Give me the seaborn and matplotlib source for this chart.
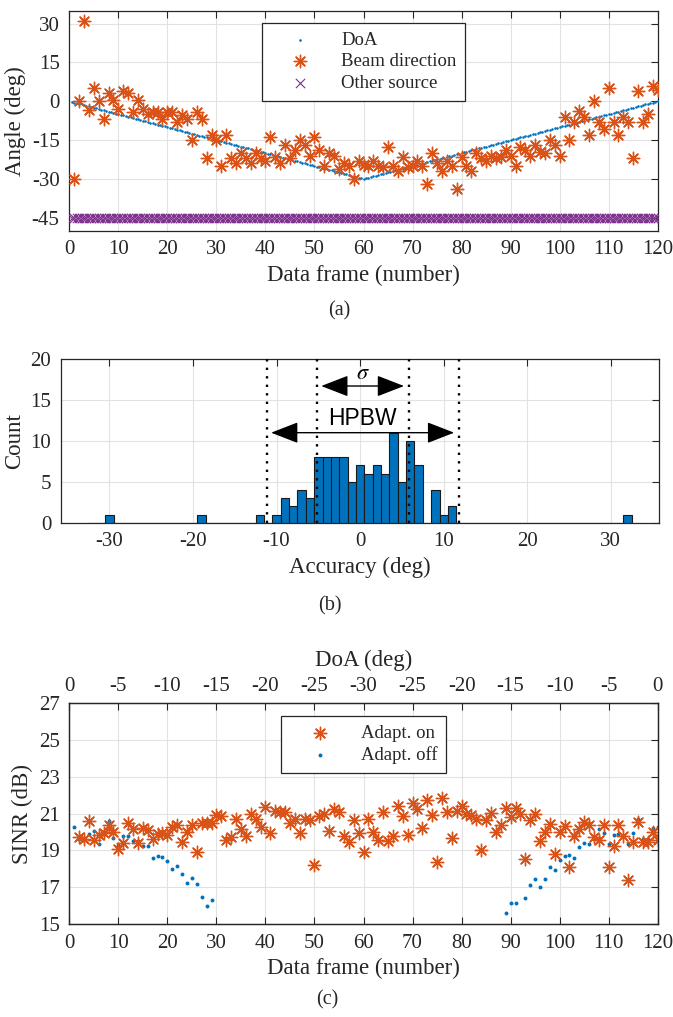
import numpy as np
import pandas as pd
import seaborn as sns
import matplotlib.pyplot as plt

sns.set_theme(style='white')
plt.rcParams.update({
    'font.family': ['Liberation Serif', 'DejaVu Serif'],
    'mathtext.fontset': 'stix',
    'axes.unicode_minus': False,
    'axes.edgecolor': '#262626',
    'axes.linewidth': 0.9,
    'xtick.direction': 'in',
    'ytick.direction': 'in',
    'xtick.color': '#262626',
    'ytick.color': '#262626',
    'text.color': '#262626',
    'axes.labelcolor': '#262626',
})

BLUE, ORANGE, PURPLE = '#0072BD', '#D95319', '#7E2F8E'
TICK_FS, LABEL_FS, LEG_FS = 15, 16.5, 13.5

# ---------------- (a) angles per data frame ----------------
beam_frame = list(range(1, 121))
beam_deg = [-30, 0, 31, -3.2, 5, 0, -6.8, 3, 0.3, -3,
            4, 3.2, -4, 0.3, -3, -4.9, -4, -4, -6.8, -4,
            -4, -8, -5.3, -6.8, -15, -4, -6.8, -22, -13, -15,
            -25, -13, -22, -24, -20, -22, -24, -20, -22, -23,
            -14, -21.5, -24, -17, -22, -19, -15, -17, -21, -14,
            -19, -25, -20, -21, -26, -24, -25, -30, -23, -24.5,
            -25, -23, -25, -25.4, -17.7, -25, -27, -21.5, -25.4, -25,
            -23, -25, -32, -20, -24, -27, -23, -25, -34, -21.5,
            -25, -27, -20, -22, -23, -21, -22, -21.5, -19, -21,
            -25, -17.7, -19, -21, -17, -19.6, -20, -15, -17, -21,
            -6, -15, -8, -3.6, -6, -13, 0.2, -8, -10.6, 5,
            -8, -13, -6, -8, -22, 4, -8, -4.9, 6, 4.4]

doa_frame = np.arange(0.5, 120.01, 0.5)
doa_deg = [-0.25, -0.5, -0.75, -1.0, -1.25, -1.5, -1.75, -2.0, -2.25, -2.5, -2.75, -3.0,
           -3.25, -3.5, -3.75, -4.0, -4.25, -4.5, -4.75, -5.0, -5.25, -5.5, -5.75, -6.0,
           -6.25, -6.5, -6.75, -7.0, -7.25, -7.5, -7.75, -8.0, -8.25, -8.5, -8.75, -9.0,
           -9.25, -9.5, -9.75, -10.0, -10.25, -10.5, -10.75, -11.0, -11.25, -11.5, -11.75, -12.0,
           -12.25, -12.5, -12.75, -13.0, -13.25, -13.5, -13.75, -14.0, -14.25, -14.5, -14.75, -15.0,
           -15.25, -15.5, -15.75, -16.0, -16.25, -16.5, -16.75, -17.0, -17.25, -17.5, -17.75, -18.0,
           -18.25, -18.5, -18.75, -19.0, -19.25, -19.5, -19.75, -20.0, -20.25, -20.5, -20.75, -21.0,
           -21.25, -21.5, -21.75, -22.0, -22.25, -22.5, -22.75, -23.0, -23.25, -23.5, -23.75, -24.0,
           -24.25, -24.5, -24.75, -25.0, -25.25, -25.5, -25.75, -26.0, -26.25, -26.5, -26.75, -27.0,
           -27.25, -27.5, -27.75, -28.0, -28.25, -28.5, -28.75, -29.0, -29.25, -29.5, -29.75, -30.0,
           -29.75, -29.5, -29.25, -29.0, -28.75, -28.5, -28.25, -28.0, -27.75, -27.5, -27.25, -27.0,
           -26.75, -26.5, -26.25, -26.0, -25.75, -25.5, -25.25, -25.0, -24.75, -24.5, -24.25, -24.0,
           -23.75, -23.5, -23.25, -23.0, -22.75, -22.5, -22.25, -22.0, -21.75, -21.5, -21.25, -21.0,
           -20.75, -20.5, -20.25, -20.0, -19.75, -19.5, -19.25, -19.0, -18.75, -18.5, -18.25, -18.0,
           -17.75, -17.5, -17.25, -17.0, -16.75, -16.5, -16.25, -16.0, -15.75, -15.5, -15.25, -15.0,
           -14.75, -14.5, -14.25, -14.0, -13.75, -13.5, -13.25, -13.0, -12.75, -12.5, -12.25, -12.0,
           -11.75, -11.5, -11.25, -11.0, -10.75, -10.5, -10.25, -10.0, -9.75, -9.5, -9.25, -9.0,
           -8.75, -8.5, -8.25, -8.0, -7.75, -7.5, -7.25, -7.0, -6.75, -6.5, -6.25, -6.0,
           -5.75, -5.5, -5.25, -5.0, -4.75, -4.5, -4.25, -4.0, -3.75, -3.5, -3.25, -3.0,
           -2.75, -2.5, -2.25, -2.0, -1.75, -1.5, -1.25, -1.0, -0.75, -0.5, -0.25, 0.0]
other_source_deg = -45

# ---------------- (b) accuracy histogram ----------------
acc_bin = list(range(-32, 33))
acc_count = [0, 0, 1, 0, 0, 0, 0, 0, 0, 0, 0, 0, 0, 1, 0, 0, 0, 0, 0, 0,
             1, 0, 1, 3, 2, 4, 3, 8, 8, 8, 8, 5, 7, 6, 7, 6, 11, 5, 10, 7,
             0, 4, 1, 2, 0, 0, 0, 0, 0, 0, 0, 0, 0, 0, 0, 0, 0, 0, 0, 0,
             0, 0, 0, 0, 1]
hpbw_lines = [-11.2, 11.8]
sigma_lines = [-5.2, 5.8]

# ---------------- (c) SINR ----------------
on_frame = list(range(2, 121))
on_db = [19.74, 19.6, 20.59, 19.56, 19.83, 19.95, 20.4, 20.0, 19.07,
         19.38, 20.46, 20.14, 19.38, 20.19, 20.1, 19.6, 19.9, 19.95, 19.86,
         20.28, 20.4, 19.43, 20.0, 20.4, 18.89, 20.46, 20.5, 20.46, 20.9,
         20.86, 19.56, 19.7, 20.7, 20.14, 19.77, 20.97, 20.73, 20.28, 21.37,
         19.95, 21.13, 21.1, 21.1, 20.46, 20.73, 19.97, 20.73, 20.64, 18.2,
         20.88, 20.97, 20.06, 21.22, 21.1, 19.77, 19.43, 20.64, 19.97, 18.89,
         20.68, 20.0, 19.56, 21.1, 19.5, 19.8, 21.4, 20.88, 19.83, 21.55,
         21.27, 20.19, 21.73, 20.9, 18.35, 21.82, 21.1, 19.65, 21.15, 21.42,
         20.95, 20.9, 20.68, 19.0, 20.64, 21.04, 20.01, 20.37, 21.28, 20.82,
         21.28, 21.0, 18.53, 20.64, 20.97, 19.5, 19.99, 20.44, 18.78, 19.99,
         20.3, 18.1, 19.77, 20.14, 20.55, 20.37, 19.74, 19.59, 20.37, 18.1,
         19.23, 20.37, 19.77, 17.38, 19.43, 20.55, 19.43, 19.43, 20.0, 19.56]
off_frame = list(range(1, 30)) + [89, 90, 91] + list(range(93, 121))
off_db = [20.28, 19.6, 19.6, 19.9, 20.06, 19.34, 19.9, 20.6, 19.68, 19.3,
          19.8, 19.77, 19.5, 19.5, 19.23, 19.23, 18.6, 18.69, 18.65, 18.42,
          18.0, 18.15, 17.7, 17.24, 17.5, 17.15, 16.48, 15.99, 16.3,
          15.58, 16.16, 16.16,
          16.43, 17.12, 17.42, 16.99, 17.42, 18.11, 17.93, 18.47, 18.71, 18.74,
          18.56, 19.2, 19.38, 19.32, 19.7, 20.14, 19.92, 19.34, 19.83, 19.9,
          19.8, 19.32, 19.95, 20.68, 19.61, 19.6, 20.23, 20.28]
doa_top_labels = ['0', '-5', '-10', '-15', '-20', '-25', '-30',
                  '-25', '-20', '-15', '-10', '-5', '0']

df_beam = pd.DataFrame({'frame': beam_frame, 'deg': beam_deg})
df_doa = pd.DataFrame({'frame': doa_frame, 'deg': doa_deg})
df_doa['other'] = other_source_deg
df_acc = pd.DataFrame({'acc': acc_bin, 'count': acc_count})
df_on = pd.DataFrame({'frame': on_frame, 'db': on_db})
df_off = pd.DataFrame({'frame': off_frame, 'db': off_db})

STAR = (8, 2, 0)

fig = plt.figure(figsize=(6.73, 10.17), dpi=100)
ax_a = fig.add_axes([0.103, 0.7732, 0.8743, 0.2163])
ax_b = fig.add_axes([0.0906, 0.486, 0.889, 0.161])
ax_c = fig.add_axes([0.103, 0.0914, 0.8743, 0.2173])


def style_axes(ax, top=True):
    ax.grid(True, color='#e2e2e2', lw=0.8)
    ax.set_axisbelow(True)
    ax.tick_params(direction='in', top=top, right=True, length=5, width=0.8,
                   labelsize=TICK_FS, pad=7)
    for s in ax.spines.values():
        s.set_visible(True)
        s.set_color('#262626')
        s.set_linewidth(0.9)


def style_legend(leg):
    fr = leg.get_frame()
    fr.set_edgecolor('#262626')
    fr.set_linewidth(0.9)
    fr.set_alpha(1)


# ---- (a)
sns.scatterplot(data=df_doa, x='frame', y='deg', ax=ax_a, color=BLUE, s=3.5,
                linewidth=0, label='DoA', zorder=3)
sns.scatterplot(data=df_beam, x='frame', y='deg', ax=ax_a, color=ORANGE,
                marker=STAR, s=80, linewidth=1.0, label='Beam direction', zorder=4)
sns.scatterplot(data=df_doa, x='frame', y='other', ax=ax_a, color=PURPLE,
                marker='x', s=45, linewidth=0.8, label='Other source', zorder=3)
ax_a.set_xlim(0, 120)
ax_a.set_ylim(-50, 35)
ax_a.set_xticks(range(0, 121, 10))
ax_a.set_yticks(range(-45, 31, 15))
ax_a.set_xlabel('Data frame (number)', fontsize=LABEL_FS)
ax_a.set_ylabel('Angle (deg)', fontsize=LABEL_FS)
style_axes(ax_a)
leg = ax_a.legend(loc='upper center', bbox_to_anchor=(0.5, 0.944), fontsize=LEG_FS,
                  fancybox=False, handlelength=3.2, handletextpad=0.6,
                  borderpad=0.45, labelspacing=0.25, borderaxespad=0)
style_legend(leg)

# ---- (b)
sns.histplot(data=df_acc, x='acc', weights='count', binwidth=1,
             binrange=(-32.5, 32.5), ax=ax_b, color=BLUE, alpha=1,
             edgecolor='#1a1a1a', linewidth=0.8)
for v in hpbw_lines + sigma_lines:
    ax_b.axvline(v, color='black', ls=(0, (1, 2.6)), lw=1.7, zorder=5)
arrow = dict(arrowstyle='<|-|>,head_length=0.85,head_width=0.33', color='black',
             lw=1.0, shrinkA=3.3, shrinkB=3.3, mutation_scale=20)
ax_b.annotate('', xy=(sigma_lines[0], 16.7), xytext=(sigma_lines[1], 16.7),
              arrowprops=arrow)
ax_b.annotate('', xy=(hpbw_lines[0], 11.0), xytext=(hpbw_lines[1], 11.0),
              arrowprops=arrow)
ax_b.text(np.mean(sigma_lines), 18.1, '$\\sigma$', ha='center', va='center',
          fontsize=16, color='black')
ax_b.text(np.mean(hpbw_lines), 12.75, 'HPBW', ha='center', va='center',
          fontsize=16.5, family='Liberation Sans', color='black')
ax_b.set_xlim(-35.8, 35.8)
ax_b.set_ylim(0, 20)
ax_b.set_xticks(range(-30, 31, 10))
ax_b.set_yticks(range(0, 21, 5))
ax_b.set_xlabel('Accuracy (deg)', fontsize=LABEL_FS)
ax_b.set_ylabel('Count', fontsize=LABEL_FS)
style_axes(ax_b)

# ---- (c)
sns.scatterplot(data=df_on, x='frame', y='db', ax=ax_c, color=ORANGE,
                marker=STAR, s=80, linewidth=1.0, label='Adapt. on', zorder=4)
sns.scatterplot(data=df_off, x='frame', y='db', ax=ax_c, color=BLUE, s=8,
                linewidth=0, label='Adapt. off', zorder=3)
ax_c.set_xlim(0, 120)
ax_c.set_ylim(15, 27)
ax_c.set_xticks(range(0, 121, 10))
ax_c.set_yticks(range(15, 28, 2))
ax_c.set_xlabel('Data frame (number)', fontsize=LABEL_FS)
ax_c.set_ylabel('SINR (dB)', fontsize=LABEL_FS)
style_axes(ax_c, top=False)
leg = ax_c.legend(loc='upper center', bbox_to_anchor=(0.5, 0.941), fontsize=LEG_FS,
                  fancybox=False, handlelength=3.2, handletextpad=0.6,
                  borderpad=0.45, labelspacing=0.25, borderaxespad=0)
style_legend(leg)

ax_top = ax_c.twiny()
ax_top.set_xlim(0, 120)
ax_top.set_xticks(range(0, 121, 10))
ax_top.set_xticklabels(doa_top_labels)
ax_top.tick_params(direction='in', length=5, width=0.8, labelsize=TICK_FS, pad=5)
ax_top.set_xlabel('DoA (deg)', fontsize=LABEL_FS, labelpad=8)
ax_top.grid(False)

# sub-captions
fig.text(339 / 673, 1 - 311 / 1017, '(a)', ha='center', va='center', fontsize=14.5)
fig.text(330 / 673, 1 - 606 / 1017, '(b)', ha='center', va='center', fontsize=14.5)
fig.text(327 / 673, 1 - 1000 / 1017, '(c)', ha='center', va='center', fontsize=14.5)

fig.savefig('out.png', dpi=100)
